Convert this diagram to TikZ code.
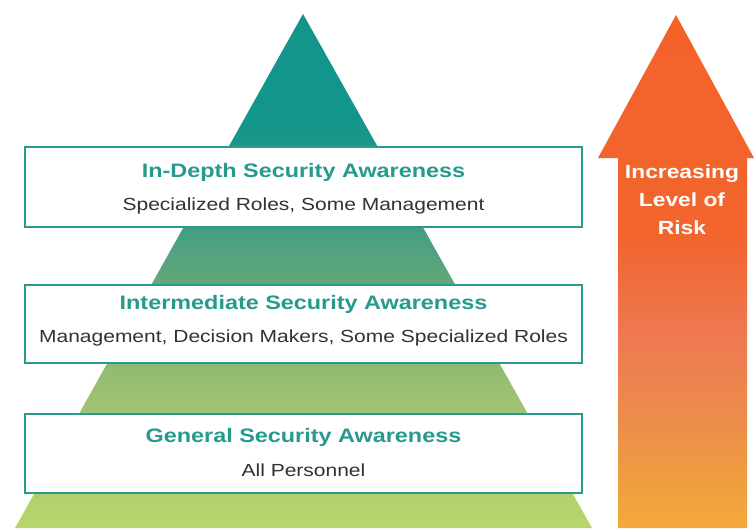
\documentclass[tikz,border=0pt]{standalone}
\usepackage{fontspec}
\setmainfont{Liberation Sans}
\newfontfamily\widefont[FakeStretch=1.2]{Liberation Sans}
\usetikzlibrary{calc}
\definecolor{boxline}{RGB}{42, 154, 142}
\definecolor{titleteal}{RGB}{38, 154, 142}
\definecolor{subgrey}{RGB}{50, 50, 50}
\definecolor{pyrA}{RGB}{184, 214, 107}
\definecolor{pyrB}{RGB}{156, 194, 114}
\definecolor{pyrC}{RGB}{94, 165, 123}
\definecolor{pyrD}{RGB}{46, 154, 132}
\definecolor{pyrE}{RGB}{18, 149, 138}
\definecolor{riskA}{RGB}{243, 170, 56}
\definecolor{riskB}{RGB}{236, 142, 74}
\definecolor{riskC}{RGB}{238, 120, 82}
\definecolor{riskD}{RGB}{242, 101, 46}
\definecolor{riskE}{RGB}{244, 98, 42}
\pgfdeclareverticalshading{pyramidshade}{100bp}{color(0bp)=(pyrA); color(25bp)=(pyrA);
  color(38bp)=(pyrB); color(50bp)=(pyrC); color(57bp)=(pyrD); color(65bp)=(pyrE);
  color(75bp)=(pyrE); color(100bp)=(pyrE)}
\pgfdeclareverticalshading{riskshade}{100bp}{color(0bp)=(riskA); color(25bp)=(riskA);
  color(35bp)=(riskB); color(44bp)=(riskC); color(53bp)=(riskD); color(75bp)=(riskE);
  color(100bp)=(riskE)}
\tikzset{
  tier/.style={draw=boxline, line width=2pt, fill=white, minimum width=557pt, inner sep=0pt},
  tiertitle/.style={font=\widefont\bfseries\fontsize{19.5}{22}\selectfont, text=titleteal},
  tiersub/.style={font=\widefont\fontsize{17.5}{20}\selectfont, text=subgrey},
}

\begin{document}
\begin{tikzpicture}[x=1pt, y=-1pt, thick]
  \useasboundingbox (0, 0) rectangle (754, 528);

  \shade[shading=pyramidshade] (15, 528) -- (303, 14) -- (592, 528) -- cycle;
  \shade[shading=riskshade] (618, 528) -- (618, 158) -- (598, 158) -- (676, 15)
    -- (754, 158) -- (747, 158) -- (747, 528) -- cycle;

  \node[align=center, text=white, font=\widefont\bfseries\fontsize{19}{28}\selectfont]
    (risk) at (682, 200) {Increasing\\Level of\\Risk};

  \node[tier, minimum height=80pt] (depthbox) at (303.5, 187) {};
  \node[tiertitle] (depthtitle) at (303.5, 172) {In-Depth Security Awareness};
  \node[tiersub] (depthsub) at (303.5, 206) {Specialized Roles, Some Management};

  \node[tier, minimum height=78pt] (midbox) at (303.5, 324) {};
  \node[tiertitle] (midtitle) at (303.5, 304) {Intermediate Security Awareness};
  \node[tiersub] (midsub) at (303.5, 338) {Management, Decision Makers, Some Specialized Roles};

  \node[tier, minimum height=79pt] (genbox) at (303.5, 453.5) {};
  \node[tiertitle] (gentitle) at (303.5, 437) {General Security Awareness};
  \node[tiersub] (gensub) at (303.5, 470) {All Personnel};
\end{tikzpicture}
\end{document}
